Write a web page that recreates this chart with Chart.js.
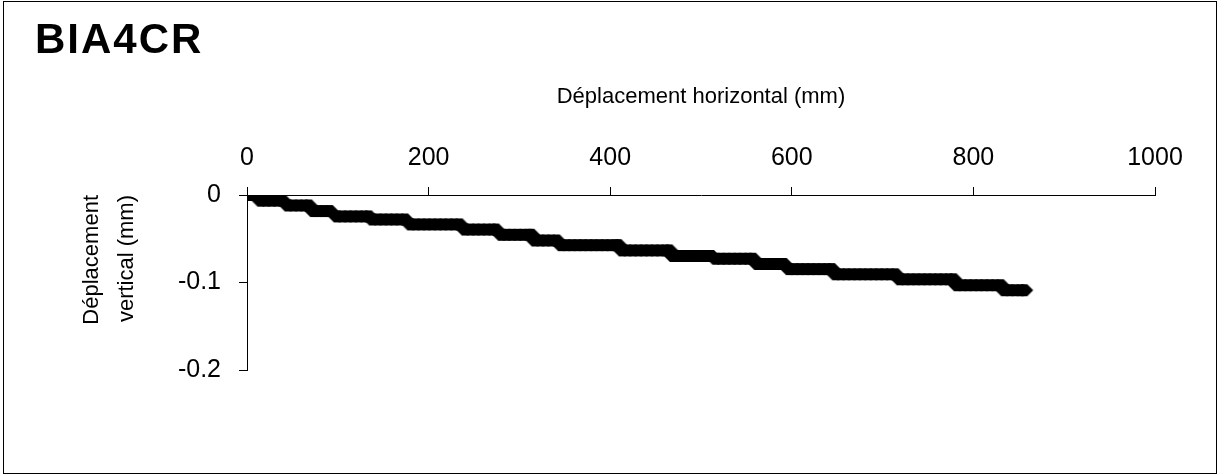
<!DOCTYPE html>
<html>
<head>
<meta charset="utf-8">
<script src="https://cdn.jsdelivr.net/npm/chart.js@4/dist/chart.umd.min.js"></script>
<style>
  html, body { margin: 0; padding: 0; background: #fff; }
  #wrap { width: 1220px; height: 476px; position: relative; }
</style>
</head>
<body>
<div id="wrap"><canvas id="c" width="1220" height="476"></canvas></div>
<script>
// ---- data ----
const chartTitle = 'BIA4CR';
const xTitle = 'Déplacement horizontal (mm)';
const yTitle = ['Déplacement', 'vertical (mm)'];
const xTickValues = [0, 200, 400, 600, 800, 1000];
const yTickValues = [0, -0.1, -0.2];

// horizontal displacement (mm)
const dispX = [
  0, 5, 10,
  15, 21, 27, 33, 39,
  45, 51, 57, 63, 68,
  73, 79, 85, 91,
  99, 105, 111, 117, 123, 129, 134,
  138, 144, 150, 156, 162, 168, 174,
  180, 186, 192, 198, 204, 210, 216, 222, 228, 234,
  240, 246, 252, 258, 264, 270, 274,
  280, 286, 292, 298, 304, 310, 313,
  317, 323, 329, 335, 341,
  346, 352, 358, 364, 370, 376, 382, 388, 394, 400, 406, 409,
  413, 419, 425, 431, 437, 443, 449, 455, 461, 465,
  469, 475, 481, 487, 493, 499, 505, 511,
  516, 522, 528, 534, 540, 546, 552, 557,
  562, 568, 574, 580, 586, 591,
  597, 603, 609, 615, 621, 627, 633, 639, 644,
  648, 654, 660, 666, 672, 678, 684, 690, 696, 702, 708, 714,
  719, 725, 731, 737, 743, 749, 755, 761, 767, 773, 778,
  782, 788, 794, 800, 806, 812, 818, 824, 830,
  834, 840, 846, 852, 856
];
// vertical displacement (mm)
const dispY = [
  0, 0, 0,
  -0.0065, -0.0065, -0.0065, -0.0065, -0.0065,
  -0.012, -0.012, -0.012, -0.012, -0.012,
  -0.0183, -0.0183, -0.0183, -0.0183,
  -0.0245, -0.0245, -0.0245, -0.0245, -0.0245, -0.0245, -0.0245,
  -0.028, -0.028, -0.028, -0.028, -0.028, -0.028, -0.028,
  -0.0336, -0.0336, -0.0336, -0.0336, -0.0336, -0.0336, -0.0336, -0.0336, -0.0336, -0.0336,
  -0.0395, -0.0395, -0.0395, -0.0395, -0.0395, -0.0395, -0.0395,
  -0.0455, -0.0455, -0.0455, -0.0455, -0.0455, -0.0455, -0.0455,
  -0.052, -0.052, -0.052, -0.052, -0.052,
  -0.0573, -0.0573, -0.0573, -0.0573, -0.0573, -0.0573, -0.0573, -0.0573, -0.0573, -0.0573, -0.0573, -0.0573,
  -0.0633, -0.0633, -0.0633, -0.0633, -0.0633, -0.0633, -0.0633, -0.0633, -0.0633, -0.0633,
  -0.0697, -0.0697, -0.0697, -0.0697, -0.0697, -0.0697, -0.0697, -0.0697,
  -0.0728, -0.0728, -0.0728, -0.0728, -0.0728, -0.0728, -0.0728, -0.0728,
  -0.0788, -0.0788, -0.0788, -0.0788, -0.0788, -0.0788,
  -0.0847, -0.0847, -0.0847, -0.0847, -0.0847, -0.0847, -0.0847, -0.0847, -0.0847,
  -0.0906, -0.0906, -0.0906, -0.0906, -0.0906, -0.0906, -0.0906, -0.0906, -0.0906, -0.0906, -0.0906, -0.0906,
  -0.0963, -0.0963, -0.0963, -0.0963, -0.0963, -0.0963, -0.0963, -0.0963, -0.0963, -0.0963, -0.0963,
  -0.1031, -0.1031, -0.1031, -0.1031, -0.1031, -0.1031, -0.1031, -0.1031, -0.1031,
  -0.1088, -0.1088, -0.1088, -0.1088, -0.1088
];

const points = dispX.map((x, i) => ({ x: x, y: dispY[i] }));

const FONT = 'Liberation Sans, Arial, Helvetica, sans-serif';

// marker: dense diamond-like marker (flat top/bottom, 45° sides)
const marker = document.createElement('canvas');
marker.width = 20; marker.height = 14;
(function () {
  const m = marker.getContext('2d');
  m.fillStyle = '#000';
  m.beginPath();
  m.moveTo(1, 7); m.lineTo(7, 1); m.lineTo(13, 1);
  m.lineTo(19, 7); m.lineTo(13, 13); m.lineTo(7, 13);
  m.closePath();
  m.fill();
})();

const frame = {
  id: 'frame',
  beforeDraw(chart) {
    const ctx = chart.ctx;
    ctx.save();
    ctx.fillStyle = '#fff';
    ctx.fillRect(0, 0, chart.width, chart.height);
    ctx.strokeStyle = '#000';
    ctx.lineWidth = 1;
    ctx.strokeRect(3.5, 1.5, 1213, 472);
    ctx.restore();
  },
  afterDraw(chart) {
    const ctx = chart.ctx;
    ctx.save();
    ctx.fillStyle = '#000';
    ctx.font = 'bold 42px ' + FONT;
    ctx.textAlign = 'left';
    ctx.textBaseline = 'alphabetic';
    try { ctx.letterSpacing = '2px'; } catch (e) {}
    ctx.fillText(chartTitle, 35, 53);
    ctx.restore();
  }
};

new Chart(document.getElementById('c'), {
  type: 'scatter',
  data: {
    datasets: [{
      data: points,
      pointStyle: marker,
      pointRadius: 7,
      backgroundColor: '#000',
      borderColor: '#000',
      showLine: false
    }]
  },
  plugins: [frame],
  options: {
    responsive: false,
    animation: false,
    events: [],
    layout: { padding: { left: 0, right: 65, top: 0, bottom: 106 } },
    plugins: {
      legend: { display: false },
      tooltip: { enabled: false },
      title: { display: false }
    },
    scales: {
      x: {
        type: 'linear',
        position: 'top',
        min: 0,
        max: 1000,
        afterBuildTicks(scale) { scale.ticks = xTickValues.map(v => ({ value: v })); },
        afterFit(scale) { scale.height = 195; },
        ticks: { color: '#000', padding: 14, font: { family: FONT, size: 25 }, maxRotation: 0,
                 callback: (v) => String(v) },
        grid: { display: true, drawOnChartArea: false, drawTicks: true, tickLength: 8, color: '#000' },
        border: { display: true, color: '#000', width: 1 },
        title: {
          display: true, text: xTitle, color: '#000',
          font: { family: FONT, size: 22, lineHeight: 1.2 },
          padding: { top: 84, bottom: 0 }
        }
      },
      y: {
        type: 'linear',
        position: 'left',
        min: -0.2,
        max: 0,
        afterBuildTicks(scale) { scale.ticks = yTickValues.map(v => ({ value: v })); },
        afterFit(scale) { scale.width = 247; },
        ticks: { color: '#000', padding: 18, font: { family: FONT, size: 25 },
                 callback: (v) => String(v) },
        grid: { display: true, drawOnChartArea: false, drawTicks: true, tickLength: 8, color: '#000' },
        border: { display: true, color: '#000', width: 1 },
        title: {
          display: true, text: yTitle, color: '#000', align: 'end',
          font: { family: FONT, size: 22, lineHeight: 1.6 },
          padding: { top: 74, bottom: 0 }
        }
      }
    }
  }
});
</script>
</body>
</html>
